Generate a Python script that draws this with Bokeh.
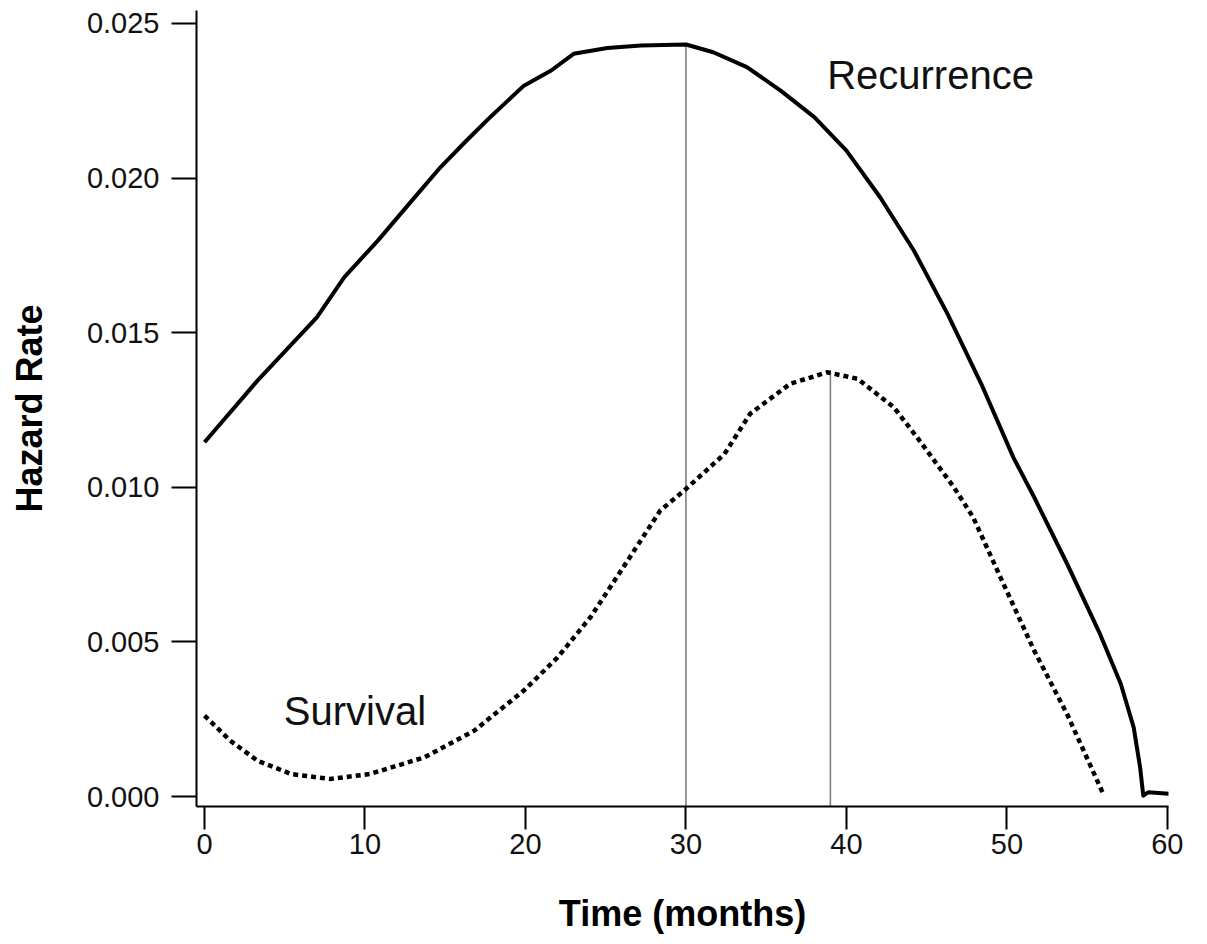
from bokeh.plotting import figure
from bokeh.models import Range1d, FixedTicker
from bokeh.core.properties import value
from bokeh.embed import file_html
from bokeh.resources import INLINE

# Recurrence hazard (solid)
rec_t = [0.0, 3.3, 7.0, 8.7, 10.8, 12.8, 14.7, 16.3, 17.8, 19.9, 21.6, 23.0, 25.1,
         27.2, 30.0, 31.7, 33.8, 35.9, 38.0, 40.0, 42.1, 44.2, 46.3, 48.4, 50.4,
         51.7, 53.75, 55.8, 57.1, 57.9, 58.3, 58.5, 58.8, 60.1]
rec_h = [0.01146, 0.01345, 0.01550, 0.01679, 0.01798, 0.01920, 0.02035, 0.02120,
         0.02197, 0.02299, 0.02348, 0.02402, 0.02421, 0.02429, 0.02432, 0.02407,
         0.02359, 0.02283, 0.02197, 0.02089, 0.01938, 0.01766, 0.01561, 0.01335,
         0.01097, 0.00968, 0.00753, 0.00526, 0.00364, 0.00224, 0.00095, 0.00003,
         0.00014, 0.00009]

# Survival hazard (dotted)
surv_t = [0.0, 1.6, 3.3, 5.4, 7.85, 10.3, 13.7, 16.8, 19.9, 22.0, 24.05, 26.1, 28.4,
          29.9, 32.4, 34.0, 36.5, 38.8, 40.7, 42.95, 44.4, 46.7, 47.9, 49.6, 51.7,
          53.75, 56.0]
surv_h = [0.00262, 0.00181, 0.00116, 0.00073, 0.00057, 0.00073, 0.00127, 0.00213,
          0.00343, 0.00450, 0.00580, 0.00742, 0.00925, 0.00990, 0.01108, 0.01238,
          0.01335, 0.01372, 0.01351, 0.01259, 0.01162, 0.01000, 0.00903, 0.00709,
          0.00472, 0.00267, 0.00009]

# Peak markers (vertical reference lines)
peak_t = [30, 39]
peak_h = [0.02434, 0.01372]

x_ticks = [0, 10, 20, 30, 40, 50, 60]
y_ticks = [0.000, 0.005, 0.010, 0.015, 0.020, 0.025]
y_tick_labels = ["0.000", "0.005", "0.010", "0.015", "0.020", "0.025"]

X0, X1 = -0.5, 60.07
Y0, Y1 = -0.00032, 0.02542

FONT = "Liberation Sans"

p = figure(width=1207, height=944, output_backend="svg", toolbar_location=None,
           x_range=Range1d(X0, X1), y_range=Range1d(Y0, Y1),
           min_border_left=196, min_border_right=39, min_border_top=10,
           min_border_bottom=138)
p.outline_line_color = None
p.grid.visible = False
p.background_fill_color = "white"
p.border_fill_color = "white"

# reference lines
p.segment(x0=peak_t, y0=[Y0] * len(peak_t), x1=peak_t, y1=peak_h,
          line_color="#7f7f7f", line_width=1.6)

p.line(rec_t, rec_h, line_color="black", line_width=4, line_join="round")
p.line(surv_t, surv_h, line_color="black", line_width=4.5, line_dash="5 4",
       line_cap="butt")

p.text(x=[38.8], y=[0.02332], text=["Recurrence"], text_font=value(FONT),
       text_font_size="40px", text_color="#111111", text_align="left",
       text_baseline="alphabetic")
p.text(x=[4.94], y=[0.00278], text=["Survival"], text_font=value(FONT),
       text_font_size="40px", text_color="#111111", text_align="left",
       text_baseline="alphabetic")

# axes
xa = p.xaxis[0]
xa.ticker = FixedTicker(ticks=x_ticks)
xa.axis_label = "Time (months)"
ya = p.yaxis[0]
ya.ticker = FixedTicker(ticks=y_ticks)
ya.major_label_overrides = {t: l for t, l in zip(y_ticks, y_tick_labels)}
ya.axis_label = "Hazard Rate"

for ax in (xa, ya):
    ax.axis_line_color = "black"
    ax.axis_line_width = 2
    ax.major_tick_line_color = "black"
    ax.major_tick_line_width = 2
    ax.major_tick_in = 0
    ax.minor_tick_line_color = None
    ax.major_label_text_font = FONT
    ax.major_label_text_font_size = "29px"
    ax.major_label_text_color = "#111111"
    ax.axis_label_text_font = FONT
    ax.axis_label_text_font_size = "36px"
    ax.axis_label_text_font_style = "bold"
    ax.axis_label_text_color = "black"

xa.major_tick_out = 23
xa.major_label_standoff = 4
xa.axis_label_standoff = 36
ya.major_tick_out = 25
ya.major_label_standoff = 12
ya.axis_label_standoff = 34

open("out.html", "w").write(file_html(p, INLINE))
